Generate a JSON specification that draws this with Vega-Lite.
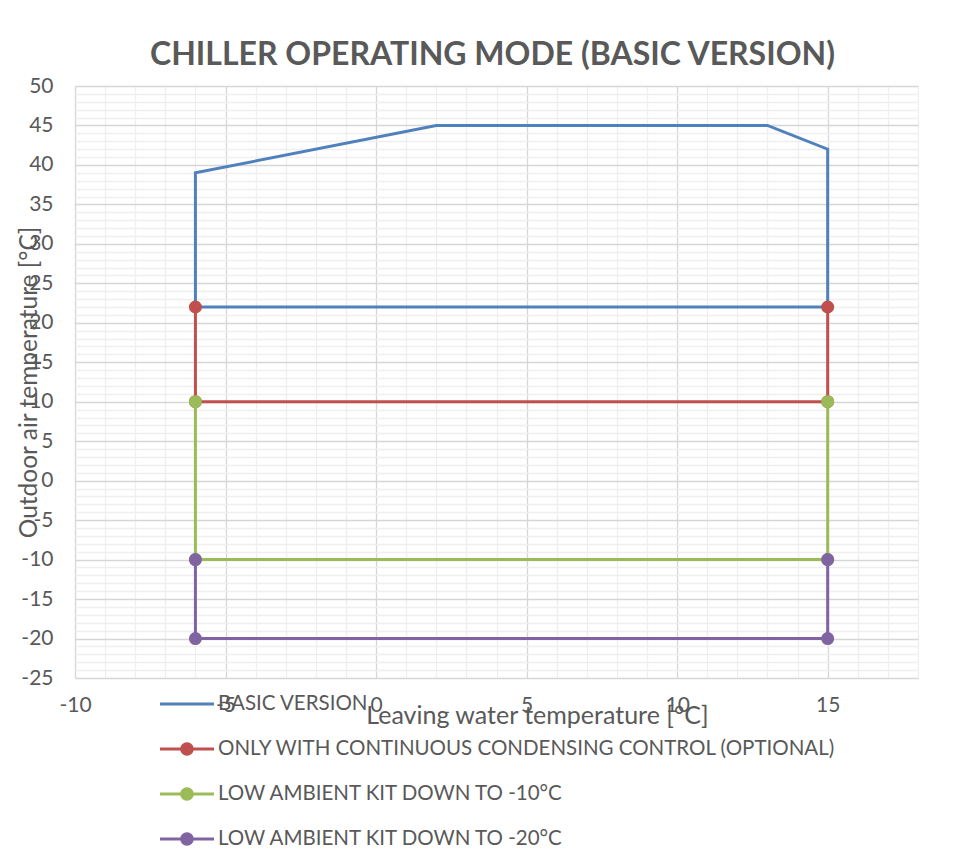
{
  "$schema": "https://vega.github.io/schema/vega-lite/v6.json",
  "width": 843,
  "height": 592,
  "autosize": "none",
  "padding": {"left": 75, "top": 86, "right": 48, "bottom": 190},
  "background": "white",
  "title": {
    "text": "CHILLER OPERATING MODE (BASIC VERSION)",
    "font": "Lato",
    "fontSize": 32,
    "fontWeight": "bold",
    "color": "#595959",
    "anchor": "middle",
    "frame": "group",
    "baseline": "alphabetic",
    "offset": 21,
    "dx": -4,
    "dy": 43
  },
  "config": {
    "view": {"stroke": null},
    "font": "Lato"
  },
  "data": {
    "values": [
      {"series": "BASIC VERSION", "order": 1, "x": -6, "y": 22},
      {"series": "BASIC VERSION", "order": 2, "x": -6, "y": 39},
      {"series": "BASIC VERSION", "order": 3, "x": 2, "y": 45},
      {"series": "BASIC VERSION", "order": 4, "x": 13, "y": 45},
      {"series": "BASIC VERSION", "order": 5, "x": 15, "y": 42},
      {"series": "BASIC VERSION", "order": 6, "x": 15, "y": 22},
      {"series": "BASIC VERSION", "order": 7, "x": -6, "y": 22},
      {"series": "ONLY WITH CONTINUOUS CONDENSING CONTROL (OPTIONAL)", "order": 1, "x": -6, "y": 22},
      {"series": "ONLY WITH CONTINUOUS CONDENSING CONTROL (OPTIONAL)", "order": 2, "x": -6, "y": 10},
      {"series": "ONLY WITH CONTINUOUS CONDENSING CONTROL (OPTIONAL)", "order": 3, "x": 15, "y": 10},
      {"series": "ONLY WITH CONTINUOUS CONDENSING CONTROL (OPTIONAL)", "order": 4, "x": 15, "y": 22},
      {"series": "LOW AMBIENT KIT DOWN TO -10°C", "order": 1, "x": -6, "y": 10},
      {"series": "LOW AMBIENT KIT DOWN TO -10°C", "order": 2, "x": -6, "y": -10},
      {"series": "LOW AMBIENT KIT DOWN TO -10°C", "order": 3, "x": 15, "y": -10},
      {"series": "LOW AMBIENT KIT DOWN TO -10°C", "order": 4, "x": 15, "y": 10},
      {"series": "LOW AMBIENT KIT DOWN TO -20°C", "order": 1, "x": -6, "y": -10},
      {"series": "LOW AMBIENT KIT DOWN TO -20°C", "order": 2, "x": -6, "y": -20},
      {"series": "LOW AMBIENT KIT DOWN TO -20°C", "order": 3, "x": 15, "y": -20},
      {"series": "LOW AMBIENT KIT DOWN TO -20°C", "order": 4, "x": 15, "y": -10}
    ]
  },
  "encoding": {
    "x": {
      "field": "x",
      "type": "quantitative",
      "scale": {"domain": [-10, 18], "nice": false, "zero": false},
      "axis": {
        "values": [-10,-9,-8,-7,-6,-5,-4,-3,-2,-1,0,1,2,3,4,5,6,7,8,9,10,11,12,13,14,15,16,17,18],
        "labelExpr": "datum.value % 5 === 0 ? '' + datum.value : ''",
        "grid": true,
        "gridColor": {"condition": {"test": "datum.value % 5 === 0", "value": "#d6d6d6"}, "value": "#efefef"},
        "gridWidth": 1.3,
        "ticks": false,
        "domain": false,
        "labelFont": "Lato",
        "labelFontSize": 21,
        "labelColor": "#595959",
        "labelBaseline": "middle",
        "labelPadding": 27,
        "labelFlush": false,
        "labelOverlap": false,
        "title": "Leaving water temperature [°C]",
        "titleFont": "Lato",
        "titleFontSize": 25,
        "titleFontWeight": "normal",
        "titleColor": "#595959",
        "titleX": 462,
        "titleY": 45,
        "titleAnchor": null,
        "titleAlign": "center",
        "titleBaseline": "alphabetic"
      }
    },
    "y": {
      "field": "y",
      "type": "quantitative",
      "scale": {"domain": [-25, 50], "nice": false, "zero": false},
      "axis": {
        "values": [-25,-24,-23,-22,-21,-20,-19,-18,-17,-16,-15,-14,-13,-12,-11,-10,-9,-8,-7,-6,-5,-4,-3,-2,-1,0,1,2,3,4,5,6,7,8,9,10,11,12,13,14,15,16,17,18,19,20,21,22,23,24,25,26,27,28,29,30,31,32,33,34,35,36,37,38,39,40,41,42,43,44,45,46,47,48,49,50],
        "labelExpr": "datum.value % 5 === 0 ? '' + datum.value : ''",
        "grid": true,
        "gridColor": {"condition": {"test": "datum.value % 5 === 0", "value": "#d6d6d6"}, "value": "#efefef"},
        "gridWidth": 1.3,
        "ticks": false,
        "domain": false,
        "labelFont": "Lato",
        "labelFontSize": 21,
        "labelColor": "#595959",
        "labelBaseline": "middle",
        "labelPadding": 22,
        "labelFlush": false,
        "labelOverlap": false,
        "title": "Outdoor air temperature [°C]",
        "titleFont": "Lato",
        "titleFontSize": 24.5,
        "titleFontWeight": "normal",
        "titleColor": "#595959",
        "titleX": -46,
        "titleY": 296,
        "titleAngle": -90,
        "titleAnchor": null,
        "titleAlign": "center",
        "titleBaseline": "middle"
      }
    },
    "color": {
      "field": "series",
      "type": "nominal",
      "sort": ["BASIC VERSION", "ONLY WITH CONTINUOUS CONDENSING CONTROL (OPTIONAL)", "LOW AMBIENT KIT DOWN TO -10°C", "LOW AMBIENT KIT DOWN TO -20°C"],
      "scale": {
        "domain": ["BASIC VERSION", "ONLY WITH CONTINUOUS CONDENSING CONTROL (OPTIONAL)", "LOW AMBIENT KIT DOWN TO -10°C", "LOW AMBIENT KIT DOWN TO -20°C"],
        "range": ["#4f81bd", "#c0504d", "#9bbb59", "#8064a2"]
      },
      "legend": {
        "title": null,
        "orient": "none",
        "legendX": 85,
        "legendY": 591,
        "direction": "vertical",
        "symbolType": "M-1,-0.055H1V0.055H-1Z",
        "symbolSize": 2916,
        "symbolStrokeWidth": 0,
        "labelFont": "Lato",
        "labelFontSize": 20.5,
        "labelColor": "#595959",
        "labelOffset": 4,
        "labelLimit": 1000,
        "rowPadding": 7,
        "padding": 0,
        "encode": {
          "symbols": {
            "update": {
              "shape": {"signal": "datum.value === 'BASIC VERSION' ? 'M-1,-0.055H1V0.055H-1Z' : 'M-1,-0.055H1V0.055H-1ZM-0.25,0A0.25,0.25,0,1,1,0.25,0A0.25,0.25,0,1,1,-0.25,0Z'"},
              "fill": {"signal": "scale('color', datum.value)"},
              "strokeWidth": {"value": 0},
              "opacity": {"value": 1}
            }
          }
        }
      }
    }
  },
  "layer": [
    {
      "mark": {"type": "line", "strokeWidth": 3, "clip": false},
      "encoding": {
        "order": {"field": "order", "type": "quantitative"},
        "detail": {"field": "series"}
      }
    },
    {
      "transform": [{"filter": "datum.series !== 'BASIC VERSION'"}],
      "mark": {"type": "point", "filled": true, "size": 170, "opacity": 1},
      "encoding": {}
    }
  ]
}
